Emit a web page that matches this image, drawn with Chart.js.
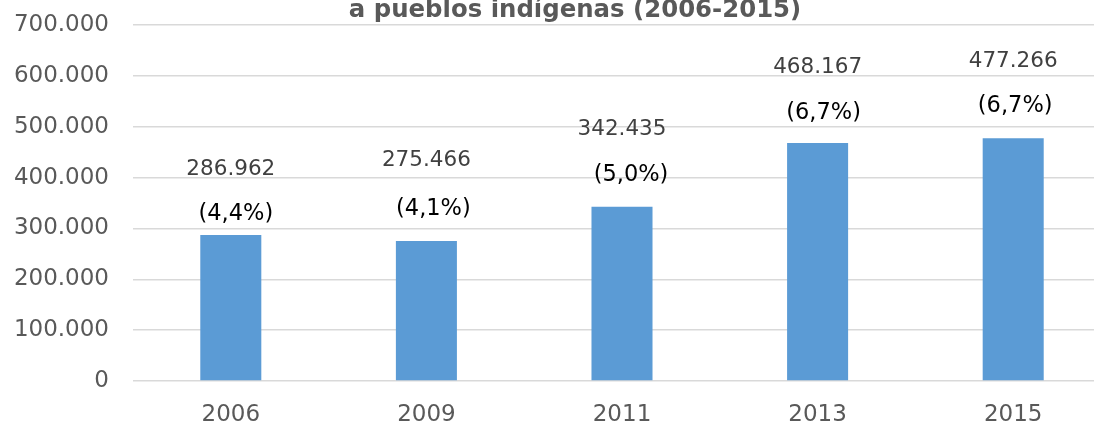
<!DOCTYPE html>
<html>
<head>
<meta charset="utf-8">
<script src="https://cdn.jsdelivr.net/npm/chart.js@4.4.1/dist/chart.umd.min.js"></script>
<style>
  html, body { margin:0; padding:0; background:#fff; overflow:hidden; }
  #wrap { position:relative; width:1116px; height:430px; }
</style>
</head>
<body>
<div id="wrap"><canvas id="chart"></canvas></div>
<script>
  // data
  const YEARS = ['2006', '2009', '2011', '2013', '2015'];
  const AMOUNTS = [286962, 275466, 342435, 468167, 477266];
  const SHARES = [4.4, 4.1, 5.0, 6.7, 6.7];
  const TITLE = 'a pueblos indígenas (2006-2015)';

  // manual label placement (Excel had them dragged around), px relative to bar top / bar centre
  const VAL_DY = [-66, -80, -77, -75, -77];
  const PCT_DX = [5, 7, 9, 6, 2];
  const PCT_DY = [-21, -32, -32, -30, -32];

  const FONT = "'DejaVu Sans', Verdana, sans-serif";
  const fmtThousands = v => Math.round(v).toString().replace(/\B(?=(\d{3})+(?!\d))/g, '.');
  const fmtShare = v => '(' + v.toFixed(1).replace('.', ',') + '%)';

  // title: the original chart was wider than the crop, so its title sits
  // off the plot centre and its first line is cut away above the picture
  const croppedTitle = {
    id: 'croppedTitle',
    afterDraw(chart) {
      const ctx = chart.ctx;
      ctx.save();
      ctx.font = 'bold 24.4px ' + FONT;
      ctx.fillStyle = '#595959';
      ctx.textAlign = 'center';
      ctx.textBaseline = 'alphabetic';
      ctx.fillText(TITLE, 575, 17);
      ctx.restore();
    }
  };

  const barLabels = {
    id: 'barLabels',
    afterDatasetsDraw(chart) {
      const ctx = chart.ctx;
      const meta = chart.getDatasetMeta(0);
      ctx.save();
      ctx.textAlign = 'center';
      ctx.textBaseline = 'middle';
      meta.data.forEach((bar, i) => {
        ctx.font = '21.5px ' + FONT;
        ctx.fillStyle = '#404040';
        ctx.fillText(fmtThousands(AMOUNTS[i]), bar.x, bar.y + VAL_DY[i]);
        ctx.font = '22.5px ' + FONT;
        ctx.fillStyle = '#000000';
        ctx.fillText(fmtShare(SHARES[i]), bar.x + PCT_DX[i], bar.y + PCT_DY[i]);
      });
      ctx.restore();
    }
  };

  new Chart(document.getElementById('chart'), {
    type: 'bar',
    data: {
      labels: YEARS,
      datasets: [{
        data: AMOUNTS,
        backgroundColor: '#5B9BD5',
        borderWidth: 0,
        categoryPercentage: 1,
        barPercentage: 0.312
      }]
    },
    options: {
      responsive: true,
      maintainAspectRatio: false,
      animation: false,
      layout: { padding: { left: 0, right: 5, top: 25, bottom: 0 } },
      plugins: {
        legend: { display: false },
        tooltip: { enabled: false },
        title: { display: false }
      },
      scales: {
        x: {
          grid: { display: false, drawTicks: false },
          border: { display: false },
          ticks: { color: '#595959', font: { family: FONT, size: 23 }, padding: 20 },
          afterFit(s) { s.height = 49; }
        },
        y: {
          min: 0,
          max: 700000,
          ticks: {
            stepSize: 100000,
            color: '#595959',
            font: { family: FONT, size: 23 },
            padding: 24,
            callback: v => fmtThousands(v)
          },
          grid: { color: '#D9D9D9', lineWidth: 1.5, drawTicks: false },
          border: { display: false },
          afterFit(s) {
            s.width = 133;
            // tick padding would otherwise push the plot top down
            s.paddingTop = 0;
            s.paddingBottom = 0;
          }
        }
      }
    },
    plugins: [barLabels, croppedTitle]
  });
</script>
</body>
</html>
